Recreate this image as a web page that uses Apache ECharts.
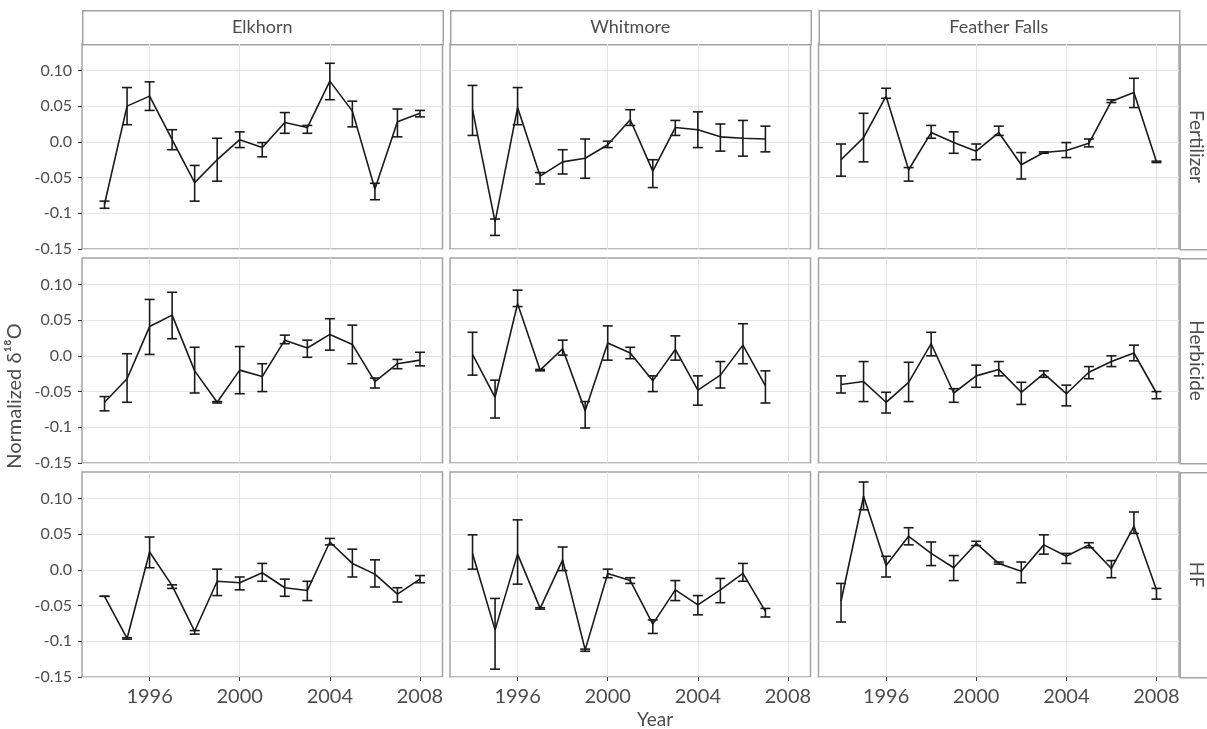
<!DOCTYPE html>
<html>
<head>
<meta charset="utf-8">
<script src="https://cdn.jsdelivr.net/npm/echarts@6/dist/echarts.min.js"></script>
<style>
  html, body { margin: 0; padding: 0; background: #fff; }
  #main { width: 1207px; height: 729px; }
</style>
</head>
<body>
<div id="main"></div>
<script type="text/javascript">
    // sites (columns) and treatments (rows)
    var sites = ['Elkhorn', 'Whitmore', 'Feather Falls'];
    var treatments = ['Fertilizer', 'Herbicide', 'HF'];

    var yearsFull = [1994, 1995, 1996, 1997, 1998, 1999, 2000, 2001, 2002, 2003, 2004, 2005, 2006, 2007, 2008];
    var yearsShort = [1994, 1995, 1996, 1997, 1998, 1999, 2000, 2001, 2002, 2003, 2004, 2005, 2006, 2007];

    var xTickValues = [1996, 2000, 2004, 2008];
    var yTickValues = [-0.15, -0.1, -0.05, 0, 0.05, 0.10];
    var yTickLabels = ['-0.15', '-0.1', '-0.05', '0.0', '0.05', '0.10'];

    // Elkhorn
    var elkFertMean = [-0.087, 0.050, 0.064, 0.003, -0.057, -0.025, 0.003, -0.008, 0.027, 0.020, 0.085, 0.043, -0.066, 0.028, 0.040];
    var elkFertLo   = [-0.093, 0.024, 0.044, -0.011, -0.083, -0.055, -0.008, -0.021, 0.012, 0.012, 0.059, 0.021, -0.081, 0.007, 0.035];
    var elkFertHi   = [-0.083, 0.076, 0.084, 0.017, -0.033, 0.005, 0.014, -0.001, 0.041, 0.023, 0.110, 0.057, -0.058, 0.046, 0.044];

    var elkHerbMean = [-0.065, -0.032, 0.041, 0.057, -0.021, -0.065, -0.020, -0.029, 0.022, 0.011, 0.030, 0.016, -0.036, -0.011, -0.006];
    var elkHerbLo   = [-0.077, -0.065, 0.002, 0.024, -0.052, -0.066, -0.053, -0.050, 0.017, -0.002, 0.008, -0.011, -0.045, -0.018, -0.014];
    var elkHerbHi   = [-0.057, 0.003, 0.079, 0.089, 0.012, -0.064, 0.013, -0.011, 0.029, 0.022, 0.052, 0.043, -0.031, -0.005, 0.005];

    var elkHFMean = [-0.037, -0.096, 0.025, -0.022, -0.086, -0.016, -0.018, -0.004, -0.025, -0.029, 0.039, 0.009, -0.006, -0.034, -0.013];
    var elkHFLo   = [-0.037, -0.097, 0.003, -0.026, -0.090, -0.036, -0.028, -0.016, -0.037, -0.043, 0.035, -0.010, -0.024, -0.045, -0.018];
    var elkHFHi   = [-0.037, -0.095, 0.046, -0.021, -0.085, 0.001, -0.010, 0.009, -0.013, -0.016, 0.044, 0.029, 0.014, -0.025, -0.008];

    // Whitmore (no 2008)
    var whiFertMean = [0.045, -0.112, 0.048, -0.048, -0.028, -0.023, -0.004, 0.031, -0.041, 0.020, 0.017, 0.007, 0.005, 0.004];
    var whiFertLo   = [0.009, -0.131, 0.024, -0.059, -0.045, -0.051, -0.008, 0.023, -0.064, 0.009, -0.008, -0.013, -0.020, -0.014];
    var whiFertHi   = [0.079, -0.108, 0.076, -0.043, -0.011, 0.004, 0.001, 0.045, -0.025, 0.030, 0.042, 0.025, 0.030, 0.022];

    var whiHerbMean = [0.002, -0.058, 0.073, -0.020, 0.010, -0.077, 0.018, 0.004, -0.035, 0.009, -0.048, -0.027, 0.015, -0.042];
    var whiHerbLo   = [-0.027, -0.087, 0.069, -0.021, 0.001, -0.101, -0.006, -0.004, -0.050, -0.006, -0.069, -0.045, -0.011, -0.066];
    var whiHerbHi   = [0.033, -0.034, 0.092, -0.019, 0.022, -0.064, 0.042, 0.012, -0.028, 0.028, -0.028, -0.008, 0.045, -0.021];

    var whiHFMean = [0.023, -0.084, 0.022, -0.054, 0.014, -0.112, -0.005, -0.015, -0.076, -0.028, -0.049, -0.028, -0.005, -0.058];
    var whiHFLo   = [0.001, -0.139, -0.020, -0.055, -0.001, -0.114, -0.011, -0.019, -0.089, -0.043, -0.063, -0.046, -0.016, -0.066];
    var whiHFHi   = [0.049, -0.040, 0.070, -0.053, 0.032, -0.111, 0.001, -0.011, -0.070, -0.015, -0.036, -0.012, 0.009, -0.054];

    // Feather Falls
    var ffFertMean = [-0.025, 0.006, 0.064, -0.039, 0.013, -0.001, -0.013, 0.013, -0.032, -0.015, -0.012, -0.002, 0.057, 0.069, -0.028];
    var ffFertLo   = [-0.048, -0.028, 0.061, -0.055, 0.005, -0.016, -0.025, 0.009, -0.052, -0.016, -0.022, -0.007, 0.055, 0.048, -0.029];
    var ffFertHi   = [-0.003, 0.040, 0.075, -0.036, 0.023, 0.014, -0.003, 0.022, -0.015, -0.014, -0.001, 0.004, 0.059, 0.089, -0.027];

    var ffHerbMean = [-0.040, -0.036, -0.065, -0.037, 0.017, -0.052, -0.028, -0.019, -0.051, -0.025, -0.053, -0.023, -0.008, 0.004, -0.052];
    var ffHerbLo   = [-0.052, -0.064, -0.080, -0.064, 0.000, -0.065, -0.044, -0.028, -0.068, -0.030, -0.070, -0.032, -0.015, -0.007, -0.060];
    var ffHerbHi   = [-0.028, -0.008, -0.051, -0.009, 0.033, -0.046, -0.013, -0.008, -0.037, -0.021, -0.041, -0.015, 0.000, 0.015, -0.050];

    var ffHFMean = [-0.044, 0.103, 0.006, 0.047, 0.023, 0.003, 0.037, 0.009, -0.002, 0.035, 0.019, 0.035, 0.002, 0.061, -0.028];
    var ffHFLo   = [-0.073, 0.084, -0.010, 0.035, 0.006, -0.015, 0.034, 0.008, -0.018, 0.022, 0.009, 0.031, -0.011, 0.051, -0.041];
    var ffHFHi   = [-0.019, 0.123, 0.019, 0.059, 0.039, 0.020, 0.040, 0.011, 0.011, 0.049, 0.023, 0.038, 0.013, 0.081, -0.026];

    // panels[row][col]
    var panels = [
        [
            { years: yearsFull, mean: elkFertMean, lo: elkFertLo, hi: elkFertHi },
            { years: yearsShort, mean: whiFertMean, lo: whiFertLo, hi: whiFertHi },
            { years: yearsFull, mean: ffFertMean, lo: ffFertLo, hi: ffFertHi }
        ],
        [
            { years: yearsFull, mean: elkHerbMean, lo: elkHerbLo, hi: elkHerbHi },
            { years: yearsShort, mean: whiHerbMean, lo: whiHerbLo, hi: whiHerbHi },
            { years: yearsFull, mean: ffHerbMean, lo: ffHerbLo, hi: ffHerbHi }
        ],
        [
            { years: yearsFull, mean: elkHFMean, lo: elkHFLo, hi: elkHFHi },
            { years: yearsShort, mean: whiHFMean, lo: whiHFLo, hi: whiHFHi },
            { years: yearsFull, mean: ffHFMean, lo: ffHFLo, hi: ffHFHi }
        ]
    ];

    // layout
    var colLeft = [82, 450, 818.5];
    var rowTop = [44, 258, 472];
    var panelW = 360.5;
    var panelH = 205;
    var fontFam = 'Lato, "Open Sans", "Noto Sans", sans-serif';
    var borderGrey = '#a3a3a3';
    var gridGrey = '#e4e4e4';
    var textGrey = '#4d4d4d';
    var inkColor = '#1a1a1a';

    function yLabel(v) {
        for (var i = 0; i < yTickValues.length; i++) {
            if (Math.abs(yTickValues[i] - v) < 1e-9) return yTickLabels[i];
        }
        return '';
    }

    function xLabel(v) {
        return String(Math.round(v));
    }

    function renderErrorBar(params, api) {
        var x = api.value(0);
        var pLo = api.coord([x, api.value(1)]);
        var pHi = api.coord([x, api.value(2)]);
        var half = 5;
        var style = { stroke: inkColor, lineWidth: 1.6 };
        return {
            type: 'group',
            children: [
                { type: 'line', shape: { x1: pLo[0], y1: pLo[1], x2: pHi[0], y2: pHi[1] }, style: style },
                { type: 'line', shape: { x1: pLo[0] - half, y1: pLo[1], x2: pLo[0] + half, y2: pLo[1] }, style: style },
                { type: 'line', shape: { x1: pHi[0] - half, y1: pHi[1], x2: pHi[0] + half, y2: pHi[1] }, style: style }
            ]
        };
    }

    var grids = [], xAxes = [], yAxes = [], series = [], graphics = [];

    for (var r = 0; r < 3; r++) {
        for (var c = 0; c < 3; c++) {
            var gi = r * 3 + c;
            var p = panels[r][c];
            var isBottom = (r === 2), isLeft = (c === 0);

            grids.push({
                left: colLeft[c], top: rowTop[r], width: panelW, height: panelH,
                show: true, backgroundColor: '#fff',
                borderColor: borderGrey, borderWidth: 1.5
            });

            xAxes.push({
                type: 'value', gridIndex: gi, position: 'bottom',
                min: 1993, max: 2009, splitNumber: 8,
                axisLine: { show: false, onZero: false },
                splitLine: { show: true, lineStyle: { color: gridGrey, width: 1 } },
                axisTick: { show: isBottom, customValues: xTickValues, length: 4, lineStyle: { color: '#333', width: 1 } },
                axisLabel: { show: isBottom, customValues: xTickValues, formatter: xLabel, fontSize: 20, color: textGrey, margin: 10, fontFamily: fontFam }
            });

            yAxes.push({
                type: 'value', gridIndex: gi, position: 'left',
                min: -0.15, max: 0.137, interval: 0.025,
                axisLine: { show: false, onZero: false },
                splitLine: { show: true, lineStyle: { color: gridGrey, width: 1 } },
                axisTick: { show: isLeft, customValues: yTickValues, length: 4, lineStyle: { color: '#333', width: 1 } },
                axisLabel: { show: isLeft, customValues: yTickValues, formatter: yLabel, fontSize: 16, color: textGrey, margin: 10, fontFamily: fontFam }
            });

            var lineData = [], barData = [];
            for (var i = 0; i < p.years.length; i++) {
                lineData.push([p.years[i], p.mean[i]]);
                barData.push([p.years[i], p.lo[i], p.hi[i]]);
            }

            series.push({
                type: 'line', xAxisIndex: gi, yAxisIndex: gi,
                data: lineData, showSymbol: false, symbol: 'none',
                lineStyle: { color: inkColor, width: 1.6 },
                z: 3
            });
            series.push({
                type: 'custom', xAxisIndex: gi, yAxisIndex: gi,
                data: barData, renderItem: renderErrorBar,
                encode: { x: 0, y: [1, 2] },
                z: 4
            });
        }
    }

    // top strips (sites)
    for (var c2 = 0; c2 < 3; c2++) {
        graphics.push({
            type: 'rect', left: colLeft[c2], top: 10,
            shape: { width: panelW, height: rowTop[0] - 10 },
            style: { fill: '#fff', stroke: borderGrey, lineWidth: 1.5 }
        });
        graphics.push({
            type: 'text', x: colLeft[c2] + panelW / 2, y: 27,
            style: { text: sites[c2], fill: textGrey, font: '18px ' + fontFam, align: 'center', verticalAlign: 'middle' }
        });
    }

    // right strips (treatments)
    for (var r2 = 0; r2 < 3; r2++) {
        graphics.push({
            type: 'rect', left: colLeft[2] + panelW + 0.5, top: rowTop[r2],
            shape: { width: 40, height: panelH },
            style: { fill: '#fff', stroke: borderGrey, lineWidth: 1.5 }
        });
        graphics.push({
            type: 'text', x: 1196, y: rowTop[r2] + panelH / 2, rotation: -Math.PI / 2,
            style: { text: treatments[r2], fill: textGrey, font: '19px ' + fontFam, align: 'center', verticalAlign: 'middle' }
        });
    }

    // axis titles
    graphics.push({
        type: 'text', x: 15, y: 396, rotation: Math.PI / 2,
        style: { text: 'Normalized δ¹⁸O', fill: textGrey, font: '20px ' + fontFam, align: 'center', verticalAlign: 'middle' }
    });
    graphics.push({
        type: 'text', x: 655, y: 720,
        style: { text: 'Year', fill: textGrey, font: '19px ' + fontFam, align: 'center', verticalAlign: 'middle' }
    });

    var myChart = echarts.init(document.getElementById('main'));
    var option = {
        animation: false,
        backgroundColor: '#fff',
        textStyle: { fontFamily: fontFam },
        grid: grids,
        xAxis: xAxes,
        yAxis: yAxes,
        series: series,
        graphic: graphics
    };
    myChart.setOption(option);
</script>
</body>
</html>
